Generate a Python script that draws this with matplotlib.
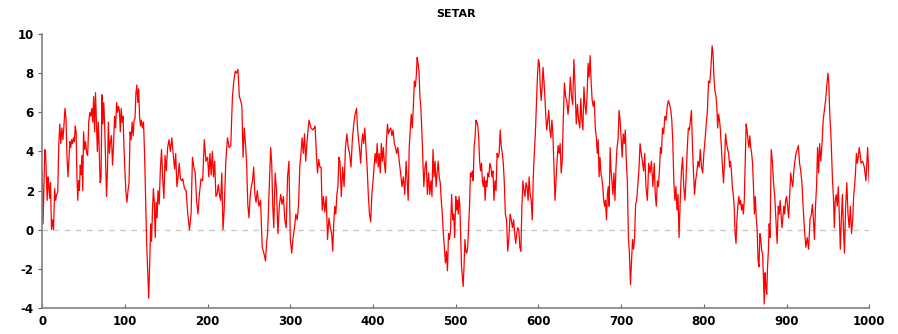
import numpy as np
import matplotlib
matplotlib.use("Agg")
import matplotlib.pyplot as plt

# SETAR series, values in 10-step blocks (t = 0..1000)
blocks = [
    [3.0, 0.3, 2.0, 4.1, 4.0, 2.8, 1.5, 2.7, 2.2, 1.6],
    [2.4, 0.0, 0.5, 0.0, 2.1, 1.5, 1.8, 1.9],
    [4.3, 5.4, 4.4, 5.2, 4.6, 5.3, 6.2, 5.7],
    [3.7, 2.7, 3.5, 4.5, 4.2, 4.6, 4.4, 4.7, 4.5],
    [5.3, 5.0, 2.7, 1.5, 2.5, 2.0, 3.3, 2.8, 3.8, 2.0],
    [5.0, 4.1, 4.5, 3.9, 3.8, 5.5, 6.0, 5.8],
    [6.2, 5.5, 6.8, 5.0, 7.0, 5.5, 4.0, 5.5, 4.2],
    [2.4, 2.6, 6.9, 5.4, 6.5, 5.3, 3.5, 1.7, 3.0],
    [5.5, 3.9, 4.5, 4.8, 3.3, 4.3, 5.8, 5.2],
    [6.5, 6.0, 6.3, 6.1, 5.0, 6.2, 5.5, 5.8, 4.2],
    [3.0, 1.9, 1.4, 2.0, 2.4, 5.0, 4.6, 5.5],
    [4.8, 5.6, 5.7, 7.0, 7.4, 6.5, 7.2, 5.7, 5.3],
    [5.6, 5.2, 5.5, 3.9, 1.6, -0.6, -2.1, -3.5],
    [-1.7, 0.3, -0.6, 1.0, 2.1, 1.4, -0.4, 1.4, 0.6],
    [2.0, 1.3, 3.1, 4.1, 2.6, 1.6, 3.8],
    [3.0, 4.2, 4.6, 4.0, 4.7, 3.9],
    [3.1, 3.9, 2.2, 2.7, 3.4, 2.6, 2.5],
    [2.6, 2.1, 2.0, 0.8, 0.0],
    [0.8, 3.7, 3.2, 2.9, 1.5, 0.8],
    [1.8, 2.6, 2.5, 4.6, 3.5],
    [3.7, 2.7, 3.9, 2.8, 4.0, 2.7, 3.5],
    [1.7, 1.8, 2.3, 1.8, 1.5, 2.9, 0.0],
    [1.0, 3.5, 4.7, 4.2, 4.3],
    [6.8, 7.6, 8.1, 8.0, 8.2, 6.8],
    [6.6, 6.3, 3.7, 5.2, 4.4, 3.4, 1.3],
    [0.6, 1.7, 2.2, 2.5, 3.2, 1.8, 1.4],
    [2.0, 1.2, 1.5, -0.9, -1.2],
    [-1.6, -0.7, -0.2, 1.3, 2.9, 4.2, 3.4, 1.2],
    [0.1, 2.9, 2.0, -0.2, 1.2, 1.8],
    [1.3, 1.7, 0.5, 0.1, 2.7, 3.5],
    [-0.5, -1.2, -0.4, 0.1, 0.8, 0.5],
    [1.3, 3.2, 3.9, 4.7, 3.9, 4.9, 3.5],
    [4.4, 5.6, 5.2, 5.1],
    [5.3, 3.9, 2.9, 3.6, 3.2, 3.2, 1.0],
    [1.7, 0.9, 1.7, -0.5, 0.6, 0.1],
    [-0.2, -1.1, 0.3, 1.2, 0.8, 1.8, 2.2, 3.7],
    [3.5, 1.7, 3.2, 2.2, 4.2, 4.9],
    [4.2, 3.9, 3.2, 4.6, 5.4, 5.9],
    [6.2, 5.2, 4.6, 4.1, 3.4, 4.4, 4.9, 4.4],
    [5.2, 4.2, 3.2, 1.8, 0.8, 0.4, 1.8],
    [2.5, 3.2, 3.9, 3.4, 4.4, 3.2, 3.9, 2.9],
    [4.4, 3.5, 4.2, 3.4, 2.9, 4.6, 5.4, 4.9],
    [5.1, 5.2, 4.8, 5.1, 4.4, 4.2, 3.9],
    [4.2, 3.5, 2.9, 2.2, 2.7, 1.8],
    [3.5, 2.5, 1.5, 4.2, 5.1, 5.9, 5.2, 6.3],
    [7.6, 7.3, 7.8, 8.8, 8.5, 8.1, 6.8, 6.3, 5.2],
    [3.9, 2.2, 3.2, 3.5, 1.8, 2.9, 1.8],
    [2.5, 1.7, 4.1, 2.7, 3.5, 2.2, 2.9, 3.5],
    [2.7, 2.4, 1.5, 0.8, -0.2, -0.9, -1.7, -1.1],
    [-2.1, -0.2, -0.5, 0.0, 1.8, 0.5, 0.8, -0.4],
    [1.7, 1.0, 1.5, 0.8, 1.7, 1.2, -0.4, -1.9, -2.4, -2.9],
    [-1.9, -0.5, -1.1, -1.2, -0.9, 0.1, 1.2, 2.9, 2.7],
    [3.0, 2.5, 4.2, 4.7, 5.6, 5.5, 5.3, 4.7, 3.5],
    [3.0, 3.4, 2.5, 2.2, 2.7, 1.5, 2.5, 2.2, 2.9],
    [2.7, 3.4, 3.2, 2.7, 3.0, 1.5, 2.5, 2.0],
    [3.9, 3.7, 3.9, 5.1, 4.3, 3.9, 3.4, 2.4],
    [0.8, 0.5, -1.1, -0.4, 0.8, 0.5, 0.1],
    [0.5, -0.2, -0.7, -0.2, 0.1, 0.0, -0.9, -1.1],
    [1.2, 2.5, 2.0, 1.7, 2.4, 2.2, 1.5, 2.7],
    [1.8, 1.5, 0.5, 2.7, 3.9, 4.9, 6.3, 7.8],
    [8.7, 8.5, 7.3, 6.6, 7.3, 8.3, 7.6, 6.8, 5.8],
    [5.1, 5.6, 6.1, 5.1, 4.7, 5.6, 4.9, 3.2],
    [1.5, 2.5, 3.5, 4.3, 3.9, 4.4, 2.9, 3.5],
    [5.6, 7.5, 6.8, 6.6, 5.9, 6.6, 7.8],
    [6.8, 6.4, 8.7, 7.3, 5.4, 6.4, 5.6],
    [5.2, 6.7, 5.6, 5.1, 7.3, 6.4, 5.9, 6.8],
    [8.5, 7.8, 8.9, 7.5, 6.6, 6.3, 6.6, 5.2],
    [4.7, 3.9, 4.6, 2.7, 3.7, 2.9, 2.6, 2.2, 1.5],
    [1.2, 1.5, 0.5, 1.8, 2.2, 1.2, 4.2, 3.0, 2.5],
    [1.8, 2.9, 1.5, 3.2, 4.2, 4.6, 6.1, 5.6],
    [4.7, 3.7, 4.9, 4.4, 5.1, 3.5, 2.5, -0.4],
    [-1.2, -2.8, -1.6, -0.5, -1.0, -0.4, 1.3, 1.5],
    [2.2, 3.0, 4.4, 3.9, 3.5, 3.0, 3.9],
    [2.2, 1.5, 3.4, 2.9, 3.5, 2.2],
    [3.4, 1.8, 1.2, 2.5, 2.2, 3.0, 4.2, 3.9],
    [5.2, 4.9, 5.8, 5.6, 6.3, 6.6, 6.4],
    [6.1, 5.6, 4.4, 2.4, 1.5, 2.2, 1.0, 1.8],
    [-0.4, 1.5, 3.0, 3.7, 2.2, 1.5, 2.7],
    [4.2, 5.2, 5.1, 5.6, 6.1, 4.2, 2.9, 1.8],
    [2.5, 2.9, 3.5, 3.2, 4.1, 3.2, 2.9],
    [3.9, 4.6, 5.4, 6.1, 7.6, 7.5, 8.3],
    [9.4, 9.0, 7.8, 7.1, 6.9, 6.4, 5.2, 5.9, 5.6],
    [5.1, 4.1, 3.2, 2.4, 3.5, 4.9, 4.4, 4.1],
    [3.9, 3.2, 3.5, 3.0, 2.2, 1.8, 1.2, -0.2, -0.7],
    [0.5, 1.2, 1.7, 1.3, 1.5, 1.0, 1.3, 0.8, 1.5],
    [3.4, 5.4, 5.1, 4.6, 4.2, 4.8, 4.2, 3.9, 3.4],
    [2.2, 0.8, 1.7, 0.6, 0.0, -1.6, -1.9, -0.2, -0.5],
    [-1.1, -1.2, -2.4, -3.8, -2.2, -2.9, -3.3, -1.9, -1.1, 0.3],
    [-0.4, 4.1, 3.5, 2.4, 1.7, 0.5, -0.7],
    [1.2, 0.8, 1.5, 0.8, 0.1, 0.6, 1.2, 0.8, 1.5],
    [1.7, 1.2, 0.6, 1.7, 2.9, 2.5, 2.2, 3.0],
    [3.5, 3.9, 4.1, 4.3, 3.4, 3.0, 2.4],
    [1.2, 0.0, -0.9, -0.4, -1.0, 0.5],
    [0.8, 1.3, 0.5, -0.5, 1.2, 2.2, 4.2, 2.9],
    [4.4, 3.5, 4.4, 5.6, 6.1, 6.6, 7.3],
    [8.0, 7.5, 5.9, 5.1, 3.9, 2.5, 1.7, 0.1, 1.5],
    [1.8, 1.2, 2.2, 0.8, -1.0, 0.5, 1.8, 0.1],
    [-1.2, 1.2, 2.4, 0.8, 0.1, 1.2, -0.2],
    [0.5, 1.7, 2.2, 2.9, 3.9, 3.4, 3.7, 4.2, 3.9],
    [3.4, 3.5, 3.2, 2.5, 4.2, 2.4],
]
block_len = 10
x_ticks = list(range(0, 1001, 100))
y_ticks = list(range(-4, 11, 2))

t = []
y = []
for k, vals in enumerate(blocks):
    n = len(vals)
    last = k == len(blocks) - 1
    t.extend(np.linspace(k * block_len, (k + 1) * block_len, n, endpoint=last))
    y.extend(vals)

fig = plt.figure(figsize=(8.98, 3.34), dpi=100)
ax = fig.add_axes([0.047, 0.078, 0.921, 0.82])

ax.axhline(0, color='#c8c8c8', linewidth=1, linestyle=(0, (4, 4)), zorder=1)
ax.plot(t, y, color='#ff0000', linewidth=0.9, zorder=2)

ax.set_xlim(0, 1000)
ax.set_ylim(-4, 10)
ax.set_xticks(x_ticks)
ax.set_yticks(y_ticks)
ax.set_xticklabels([str(v) for v in x_ticks], fontsize=8.5, fontweight='bold')
ax.set_yticklabels([str(v) for v in y_ticks], fontsize=8.5, fontweight='bold')
ax.tick_params(axis='x', direction='in', length=3, color='#606060', pad=5)
ax.tick_params(axis='y', direction='out', length=3, color='#606060', pad=3)

for side in ['top', 'right']:
    ax.spines[side].set_visible(False)
for side in ['left', 'bottom']:
    ax.spines[side].set_color('#808080')
    ax.spines[side].set_linewidth(1.2)

ax.set_title('SETAR', fontsize=8, fontweight='bold', pad=12)

fig.savefig('out.png', dpi=100)
